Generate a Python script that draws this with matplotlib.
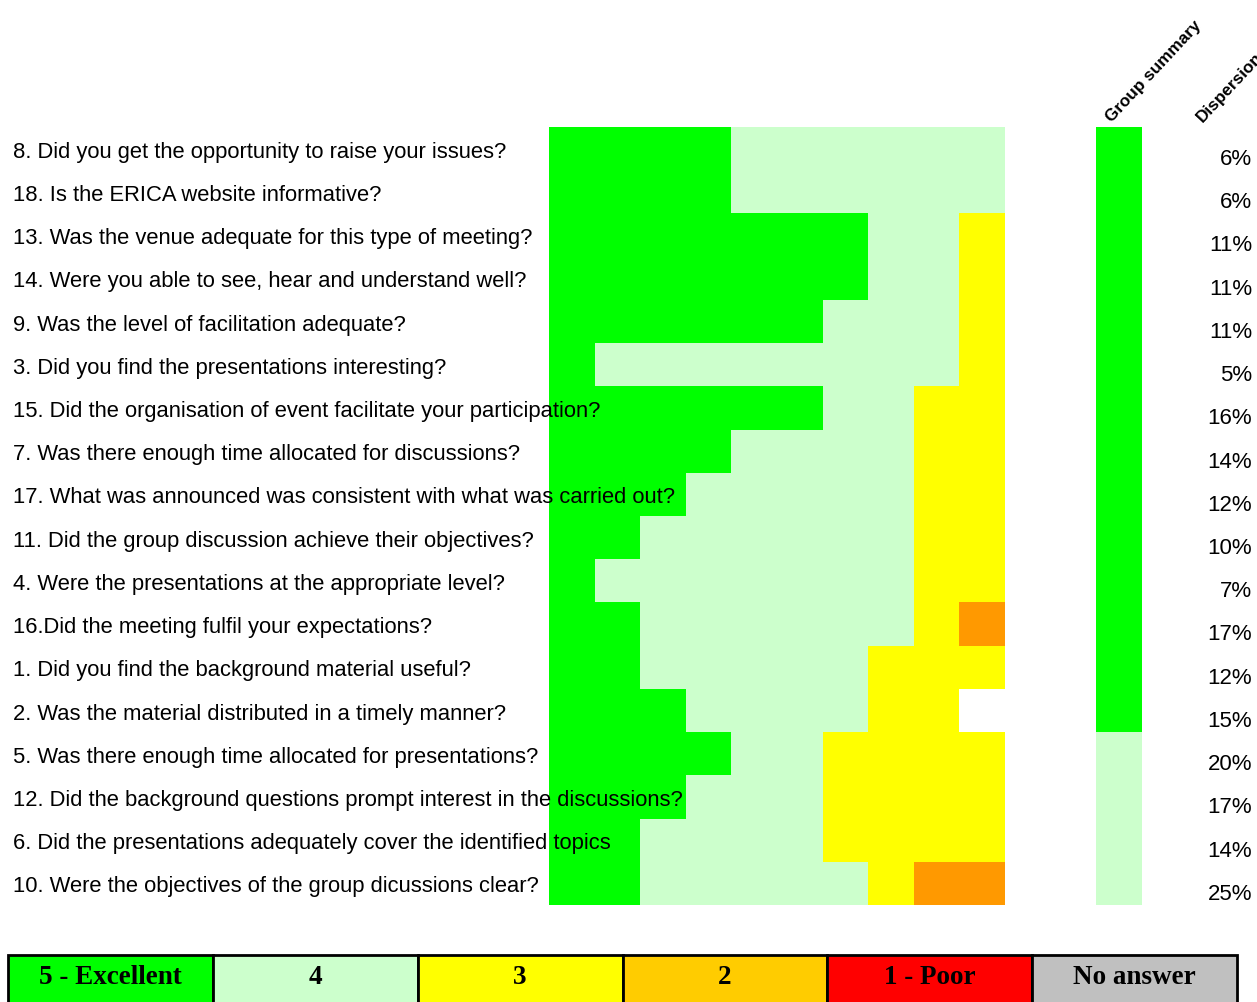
import numpy as np
import matplotlib
matplotlib.use("Agg")
from matplotlib import pyplot as plt
from matplotlib.patches import Rectangle
from matplotlib.transforms import blended_transform_factory

# questions in display order (top to bottom)
questions = [
    "8. Did you get the opportunity to raise your issues?",
    "18. Is the ERICA website informative?",
    "13. Was the venue adequate for this type of meeting?",
    "14. Were you able to see, hear and understand well?",
    "9. Was the level of facilitation adequate?",
    "3. Did you find the presentations interesting?",
    "15. Did the organisation of event facilitate your participation?",
    "7. Was there enough time allocated for discussions?",
    "17. What was announced was consistent with what was carried out?",
    "11. Did the group discussion achieve their objectives?",
    "4. Were the presentations at the appropriate level?",
    "16.Did the meeting fulfil your expectations?",
    "1. Did you find the background material useful?",
    "2. Was the material distributed in a timely manner?",
    "5. Was there enough time allocated for presentations?",
    "12. Did the background questions prompt interest in the discussions?",
    "6. Did the presentations adequately cover the identified topics",
    "10. Were the objectives of the group dicussions clear?",
]

# number of answers per score: 5, 4, 3, 2, 1
score5 = [4, 4, 7, 7, 6, 1, 6, 4, 3, 2, 1, 2, 2, 3, 4, 3, 2, 2]
score4 = [6, 6, 2, 2, 3, 8, 2, 4, 5, 6, 7, 6, 5, 4, 2, 3, 4, 5]
score3 = [0, 0, 1, 1, 1, 1, 2, 2, 2, 2, 2, 1, 3, 2, 4, 4, 4, 1]
score2 = [0, 0, 0, 0, 0, 0, 0, 0, 0, 0, 0, 1, 0, 0, 0, 0, 0, 2]
score1 = [0] * 18

group_summary = [5] * 14 + [4] * 4
dispersion = [6, 6, 11, 11, 11, 5, 16, 14, 12, 10, 7, 17, 12, 15, 20, 17, 14, 25]

legend_labels = ["5 - Excellent", "4", "3", "2", "1 - Poor", "No answer"]

cell_colors = {5: "#00FF00", 4: "#CCFFCC", 3: "#FFFF00", 2: "#FF9900", 1: "#FF0000"}
legend_colors = ["#00FF00", "#CCFFCC", "#FFFF00", "#FFCC00", "#FF0000", "#C0C0C0"]

W, H = 1257, 1002
fig = plt.figure(figsize=(W / 100, H / 100), dpi=100)
ax = fig.add_axes([549 / W, 1 - 905 / H, 456 / W, 778 / H])
ax.set_xlim(0, 10)
ax.set_ylim(len(questions), 0)
ax.axis("off")

y = np.arange(len(questions)) + 0.5
left = np.zeros(len(questions))
for score, counts in zip([5, 4, 3, 2, 1], [score5, score4, score3, score2, score1]):
    counts = np.array(counts)
    ax.barh(y, counts, left=left, height=1.0, color=cell_colors[score],
            linewidth=0, clip_on=False)
    left += counts

# group summary column
ax.barh(y, 1, left=12, height=1.0, color=[cell_colors[s] for s in group_summary],
        linewidth=0, clip_on=False)

tr = blended_transform_factory(fig.transFigure, ax.transData)
for yi, q, d in zip(y, questions, dispersion):
    ax.text(13 / W, yi + 0.21, q, transform=tr, ha="left", va="baseline",
            fontsize=15.8, family="Liberation Sans", zorder=5)
    ax.text(1252 / W, yi + 0.38, f"{d}%", transform=tr, ha="right", va="baseline",
            fontsize=16, family="Liberation Sans")

# column headers (Dispersion runs off the right edge)
fig.text(1112 / W, 1 - 123 / H, "Group summary", rotation=47, rotation_mode="anchor",
         ha="left", va="baseline", fontsize=12.3, fontweight="bold", family="Liberation Sans")
fig.text(1203 / W, 1 - 123 / H, "Dispersion", rotation=47, rotation_mode="anchor",
         ha="left", va="baseline", fontsize=12.3, fontweight="bold", family="Liberation Sans")

# legend strip at the bottom
lx0, lx1, ly0 = 8, 1237, 955
cw = (lx1 - lx0) / len(legend_labels)
for i, (lab, col) in enumerate(zip(legend_labels, legend_colors)):
    x0 = lx0 + i * cw
    fig.patches.append(Rectangle((x0 / W, 1 - 1012 / H), cw / W, (1012 - ly0) / H,
                                 transform=fig.transFigure, facecolor=col,
                                 edgecolor="black", linewidth=2))
    fig.text((x0 + cw / 2) / W, 1 - 984 / H, lab, ha="center", va="baseline",
             fontsize=19.5, fontweight="bold", family="Liberation Serif")

fig.savefig("out.png", dpi=100)
